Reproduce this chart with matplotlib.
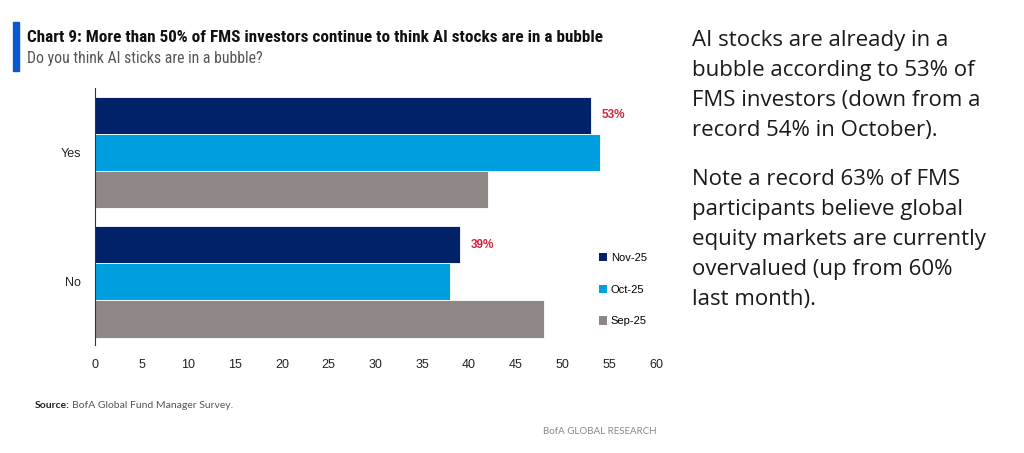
import matplotlib.pyplot as plt
from matplotlib.patches import Rectangle
from matplotlib import font_manager
import numpy as np

categories = ["Yes", "No"]
series_names = ["Nov-25", "Oct-25", "Sep-25"]
nov_25 = [53, 39]
oct_25 = [54, 38]
sep_25 = [42, 48]
nov_labels = ["53%", "39%"]
colors = ["#012169", "#009FDF", "#8F8785"]

plt.rcParams['font.family'] = ['Liberation Sans', 'DejaVu Sans']

# header font: a condensed face if one is installed
installed = {f.name for f in font_manager.fontManager.ttflist}
head_font = next((n for n in ["Roboto Condensed", "Liberation Sans Narrow", "Roboto"]
                  if n in installed), "Liberation Sans")

fig = plt.figure(figsize=(10.24, 4.53), dpi=100)
ax = fig.add_axes([95 / 1024, 1 - 345 / 453, 561 / 1024, 257 / 453])

group_start = np.array([0.0, 3.5])
for k, (name, vals) in enumerate(zip(series_names, [nov_25, oct_25, sep_25])):
    ax.barh(group_start + k, vals, height=1.0, color=colors[k],
            edgecolor="white", linewidth=0.6, label=name)

for y, v, lab in zip(group_start, nov_25, nov_labels):
    ax.text(v + 1.2, y, lab, ha="left", va="center", color="#D6243E",
            fontsize=8.5, fontweight="bold")

ax.set_xlim(0, 60)
ax.set_ylim(6.2, -0.73)
ax.set_xticks(np.arange(0, 61, 5))
ax.set_yticks(group_start + 1)
ax.set_yticklabels(categories)
ax.tick_params(axis="x", length=0, labelsize=9, pad=10, colors="#222222")
ax.tick_params(axis="y", length=0, labelsize=9, pad=10, colors="#222222")
for s in ["top", "right", "bottom"]:
    ax.spines[s].set_visible(False)
ax.spines["left"].set_color("#333333")
ax.spines["left"].set_linewidth(0.8)

leg = ax.legend(loc="upper left", bbox_to_anchor=(0.89, 0.375), frameon=False,
                fontsize=8, handlelength=0.75, handleheight=0.75,
                handletextpad=0.35, labelspacing=1.95, borderaxespad=0)
for h in leg.legend_handles:
    h.set_edgecolor("none")

renderer = fig.canvas.get_renderer()


def fit_width(t, target_px):
    w = t.get_window_extent(renderer).width
    t.set_fontsize(t.get_fontsize() * target_px / w)


# header
fig.patches.append(Rectangle((13 / 1024, 1 - 71 / 453), 6 / 1024, 49 / 453,
                             transform=fig.transFigure, color="#0A58D0"))
title = fig.text(27 / 1024, 1 - 37 / 453,
                 "Chart 9: More than 50% of FMS investors continue to think AI stocks are in a bubble",
                 fontsize=10, fontweight="bold", family=head_font,
                 color="#111111", va="center")
fit_width(title, 575)
subtitle = fig.text(27 / 1024, 1 - 59 / 453, "Do you think AI sticks are in a bubble?",
                    fontsize=9.5, family=head_font, color="#555555", va="center")
fit_width(subtitle, 236)

# footer
src_b = fig.text(35 / 1024, 1 - 405 / 453, "Source:", fontsize=7, fontweight="bold",
                 family="Lato", color="#222222", va="center")
fit_width(src_b, 35)
src = fig.text(72 / 1024, 1 - 405 / 453, "BofA Global Fund Manager Survey.",
               fontsize=7, family="Lato", color="#555555", va="center")
fit_width(src, 161)
foot = fig.text(657 / 1024, 1 - 431 / 453, "BofA GLOBAL RESEARCH", fontsize=7.5,
                family="Lato", color="#888888", va="center", ha="right")
fit_width(foot, 114)

right_text_1 = "AI stocks are already in a\nbubble according to 53% of\nFMS investors (down from a\nrecord 54% in October)."
right_text_2 = "Note a record 63% of FMS\nparticipants believe global\nequity markets are currently\novervalued (up from 60%\nlast month)."
# va="baseline" puts the last line's baseline at y
fig.text(692 / 1024, 1 - 135.7 / 453, right_text_1, fontsize=16, family=["Open Sans", "DejaVu Sans"],
         color="#1a1a1a", va="baseline", linespacing=1.56)
fig.text(692 / 1024, 1 - 305 / 453, right_text_2, fontsize=16, family=["Open Sans", "DejaVu Sans"],
         color="#1a1a1a", va="baseline", linespacing=1.56)

fig.savefig("out.png", dpi=100)
